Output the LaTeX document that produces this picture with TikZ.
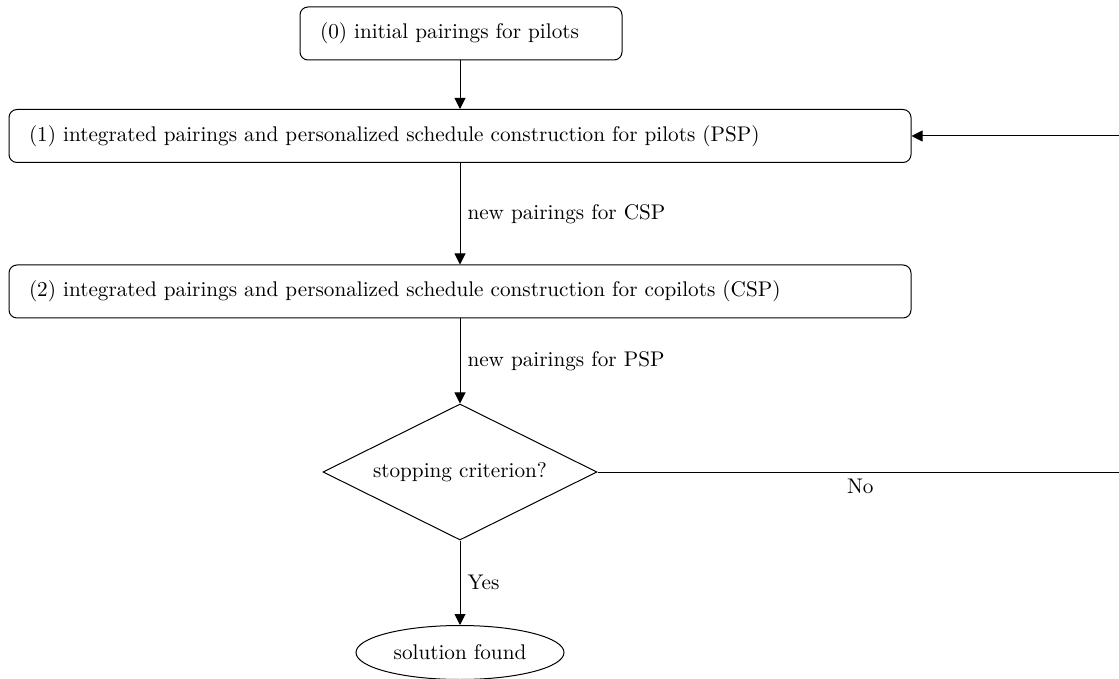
\documentclass[tikz,border=0pt]{standalone}
\usetikzlibrary{shapes.geometric,arrows.meta}
\begin{document}
\begin{tikzpicture}[x=0.5pt,y=-0.5pt,
  every node/.style={font=\fontsize{10.6}{13}\selectfont},
  box/.style={draw, line width=0.5pt, rounded corners=4pt, minimum height=26.5pt, inner xsep=10pt, inner ysep=0pt, align=left},
  dia/.style={draw, line width=0.5pt, diamond, aspect=2, minimum width=137pt, minimum height=68pt, inner sep=0pt},
  ell/.style={draw, line width=0.5pt, ellipse, minimum width=104pt, minimum height=27pt, inner sep=0pt},
  arr/.style={draw, line width=0.5pt, -{Triangle[length=5.5pt,width=5.5pt]}},
  ln/.style={draw, line width=0.5pt},
  lbl/.style={inner sep=3.5pt}]
\useasboundingbox (0,0) rectangle (1119,679);
\node[box, text width=141pt] (b0) at (461,33.5) {(0) initial pairings for pilots};
\node[box, text width=431pt] (b1) at (460,136) {(1) integrated pairings and personalized schedule construction for pilots (PSP)};
\node[box, text width=431pt] (b2) at (460,291.5) {(2) integrated pairings and personalized schedule construction for copilots (CSP)};
\node[dia] (d) at (460,472) {stopping criterion?};
\node[ell] (e) at (460,652.5) {solution found};
\coordinate (c1) at (1123,472);
\coordinate (c2) at (1123,136);
\draw[arr] (b0.south -| b1) -- (b1);
\draw[arr] (b1) -- node[right, lbl] {new pairings for CSP} (b2);
\draw[arr] (b2) -- node[right, lbl] {new pairings for PSP} (d);
\draw[arr] (d) -- node[right, lbl] {Yes} (e);
\draw[ln] (d.east) -- node[below, lbl] {No} (c1);
\draw[arr] (c1) -- (c2) -- (b1.east);
\end{tikzpicture}
\end{document}
